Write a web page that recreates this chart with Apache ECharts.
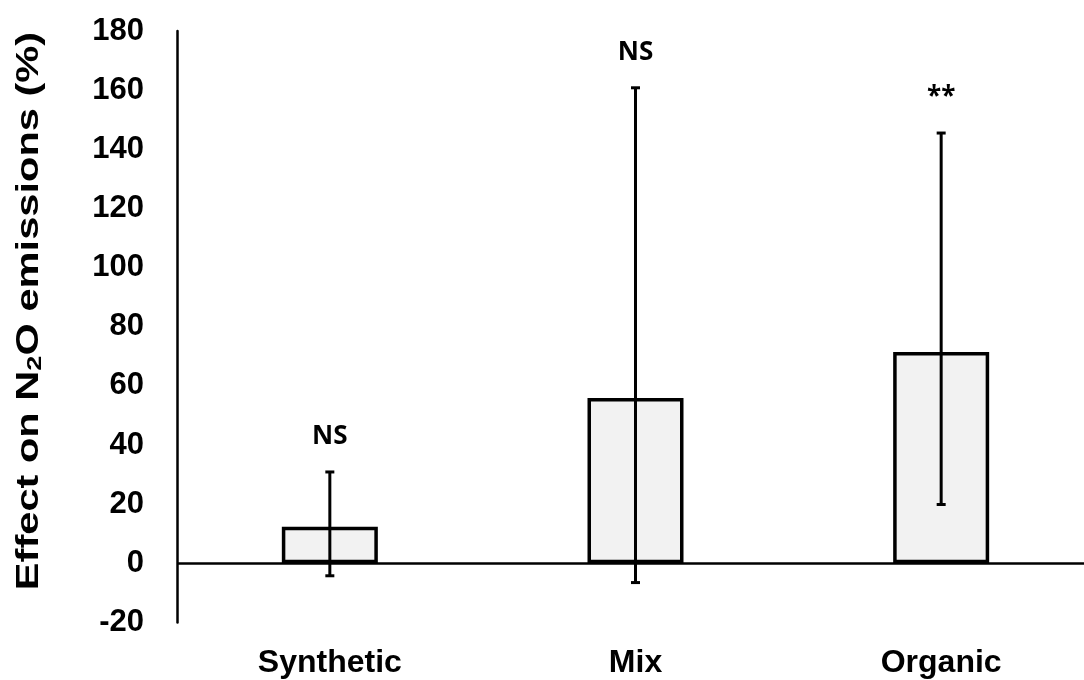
<!DOCTYPE html>
<html>
<head>
<meta charset="utf-8">
<script src="https://cdn.jsdelivr.net/npm/echarts@6/dist/echarts.min.js"></script>
<style>
  html, body { margin: 0; padding: 0; background: #fff; }
  #chart { width: 1084px; height: 680px; }
</style>
</head>
<body>
<div id="chart"></div>
<script>
// Fertilizer type categories
var categories = ['Synthetic', 'Mix', 'Organic'];
// Mean effect on N2O emissions (%)
var effect = [12.4, 55.9, 71.5];
// Confidence interval bounds (%)
var ciLow = [-4.2, -6.5, 19.9];
var ciHigh = [30.9, 160.8, 145.5];
// Significance markers above each interval
var signif = ['NS', 'NS', '**'];
// Y axis range and step
var yMin = -20, yMax = 180, yStep = 20;

var errorData = categories.map(function (c, i) { return [i, ciLow[i], ciHigh[i]]; });
var boldSans = 'Liberation Sans, Arial, sans-serif';

var chart = echarts.init(document.getElementById('chart'));
chart.setOption({
  animation: false,
  backgroundColor: '#ffffff',
  grid: {
    left: 177, right: -10, top: 31, bottom: 57.5,
    containLabel: false,
    outerBoundsMode: 'none'
  },
  // Rotated y-axis title, widened along its reading direction
  graphic: [{
    type: 'text',
    x: 29, y: 311,
    rotation: Math.PI / 2,
    scaleX: 1.3,
    style: {
      text: 'Effect on N{sub|2}O emissions (%)',
      fill: '#000',
      font: 'bold 32px "Liberation Sans", Arial, sans-serif',
      align: 'center',
      verticalAlign: 'middle',
      rich: {
        sub: {
          fill: '#000',
          font: 'bold 21px "Liberation Sans", Arial, sans-serif',
          padding: [13, 0, 0, 0]
        }
      }
    }
  }],
  xAxis: {
    type: 'category',
    data: categories,
    axisLine: { show: false, onZero: false },
    axisTick: { show: false },
    axisLabel: {
      margin: 25,
      color: '#000',
      fontFamily: boldSans,
      fontWeight: 'bold',
      fontSize: 32
    }
  },
  yAxis: {
    type: 'value',
    min: yMin, max: yMax, interval: yStep,
    splitLine: { show: false },
    axisTick: { show: false },
    axisLine: { show: true, lineStyle: { color: '#000', width: 2.5 } },
    axisLabel: {
      margin: 33,
      color: '#000',
      fontFamily: boldSans,
      fontWeight: 'bold',
      fontSize: 31
    }
  },
  series: [
    {
      type: 'bar',
      data: effect,
      barWidth: 96,
      itemStyle: { color: '#f2f2f2', borderColor: '#000', borderWidth: 3.5 },
      z: 2,
      // Zero baseline across the plot
      markLine: {
        silent: true,
        symbol: 'none',
        label: { show: false },
        lineStyle: { color: '#000', width: 2.5, type: 'solid' },
        data: [{ yAxis: 0 }]
      }
    },
    {
      type: 'custom',
      data: errorData,
      z: 5,
      clip: false,
      renderItem: function (params, api) {
        var idx = api.value(0);
        var lo = api.coord([idx, api.value(1)]);
        var hi = api.coord([idx, api.value(2)]);
        var cap = 4.5;
        var style = { stroke: '#000', lineWidth: 3 };
        return {
          type: 'group',
          children: [
            { type: 'line', shape: { x1: hi[0], y1: hi[1], x2: lo[0], y2: lo[1] }, style: style },
            { type: 'line', shape: { x1: hi[0] - cap, y1: hi[1], x2: hi[0] + cap, y2: hi[1] }, style: style },
            { type: 'line', shape: { x1: lo[0] - cap, y1: lo[1], x2: lo[0] + cap, y2: lo[1] }, style: style },
            {
              type: 'text',
              x: hi[0], y: hi[1] - 35,
              style: {
                text: signif[params.dataIndex],
                fill: '#000',
                font: 'bold 26px "Open Sans", sans-serif',
                align: 'center',
                verticalAlign: 'middle'
              }
            }
          ]
        };
      }
    }
  ]
});
</script>
</body>
</html>
